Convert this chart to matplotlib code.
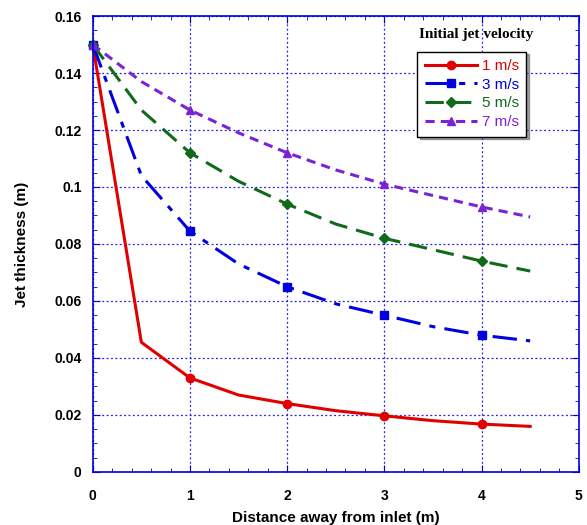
import matplotlib.pyplot as plt
from matplotlib.ticker import MultipleLocator, FuncFormatter

# distances along the plate (m) and jet thickness (m) for each inlet velocity
x = [0, 0.5, 1, 1.5, 2, 2.5, 3, 3.5, 4, 4.5]
v1 = [0.15, 0.0455, 0.033, 0.027, 0.024, 0.0215, 0.0197, 0.018, 0.0168, 0.016]
v3 = [0.15, 0.104, 0.0845, 0.073, 0.065, 0.059, 0.055, 0.051, 0.048, 0.046]
v5 = [0.15, 0.127, 0.112, 0.102, 0.094, 0.087, 0.082, 0.078, 0.074, 0.0705]
v7 = [0.15, 0.137, 0.127, 0.119, 0.112, 0.106, 0.101, 0.097, 0.093, 0.0895]
labels = ['1 m/s', '3 m/s', '5 m/s', '7 m/s']

plt.rcParams['font.family'] = ['Liberation Sans', 'DejaVu Sans']
plt.rcParams['font.weight'] = 'bold'

fig = plt.figure(figsize=(5.87, 5.25), dpi=100)
ax = fig.add_axes([0.158, 0.101, 0.828, 0.8685])

styles = [
    (v1, '#e00000', 'o', '-', 6),
    (v3, '#0000e0', 's', (0, (8, 3, 2, 3)), 6),
    (v5, '#106a1a', 'D', (0, (6, 3)), 5),
    (v7, '#7a22d6', '^', (0, (3, 2)), 6),
]
for (y, c, m, ls, ms), lab in zip(styles, labels):
    ax.plot(x, y, color=c, linestyle=ls, linewidth=2.2, marker=m, markersize=ms,
            markevery=2, label=lab, clip_on=False)

ax.set_xlim(0, 5)
ax.set_ylim(0, 0.16)
ax.xaxis.set_major_locator(MultipleLocator(1))
ax.xaxis.set_minor_locator(MultipleLocator(0.2))
ax.yaxis.set_major_locator(MultipleLocator(0.02))
ax.yaxis.set_minor_locator(MultipleLocator(0.005))
ax.yaxis.set_major_formatter(FuncFormatter(lambda v, p: '%g' % round(v, 3)))
ax.tick_params(which='both', direction='in', top=True, right=True, color='#0000e0',
               labelsize=10)
ax.tick_params(axis='y', which='major', length=5, pad=8)
ax.tick_params(axis='x', which='major', length=5, pad=12)
ax.tick_params(which='minor', length=3)
for s in ax.spines.values():
    s.set_color('#0000e0')
    s.set_linewidth(1.2)
ax.grid(True, which='major', color='#2020e0', linestyle=(0, (1.5, 2)), linewidth=0.9)

ax.set_xlabel('Distance away from inlet (m)', fontsize=11, fontweight='bold', labelpad=6)
ax.set_ylabel('Jet thickness (m)', fontsize=11, fontweight='bold', labelpad=18)

leg = ax.legend(loc='upper left', bbox_to_anchor=(0.668, 0.922), frameon=True, shadow=True,
                fancybox=False, fontsize=11, handlelength=3.4, labelspacing=0.3,
                borderpad=0.5, handletextpad=0.3, borderaxespad=0)
leg.get_frame().set_edgecolor('black')
leg.get_frame().set_linewidth(1.0)
for t, (y, c, m, ls, ms) in zip(leg.get_texts(), styles):
    t.set_color(c)
    t.set_fontweight('normal')

ax.text(0.788, 0.96, 'Initial jet velocity', transform=ax.transAxes, ha='center', va='center',
        fontsize=11, fontweight='bold', family='Liberation Serif')

fig.savefig('out.png', dpi=100)
